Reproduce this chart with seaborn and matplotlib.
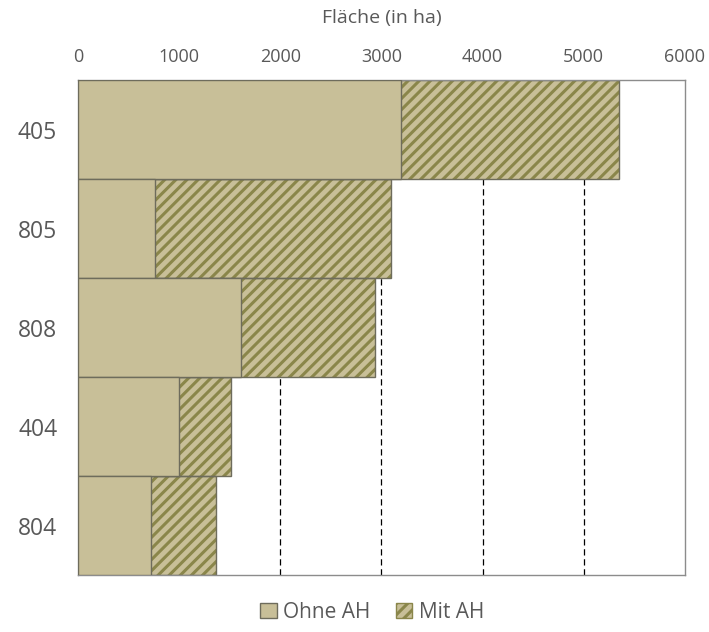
import pandas as pd
import numpy as np
import matplotlib.pyplot as plt
import matplotlib.patches as mpatches
import seaborn as sns

# Daten (in ha)
gebiete = ['405', '805', '808', '404', '804']
ohne_ah = [3190, 760, 1610, 1000, 720]
mit_ah = [2160, 2335, 1325, 515, 645]

df = pd.DataFrame({'Gebiet': gebiete, 'Ohne AH': ohne_ah, 'Mit AH': mit_ah})
df['Gesamt'] = df['Ohne AH'] + df['Mit AH']

sns.set_style('white')
plt.rcParams['font.family'] = ['Open Sans', 'DejaVu Sans']
plt.rcParams['hatch.linewidth'] = 2.2

fill = '#C8BF98'
schraffur = '#8A864A'
edge = '#6E6C5C'
grau = '#595959'

fig = plt.figure(figsize=(7.09, 6.32), dpi=100)
ax = fig.add_axes([0.110, 0.090, 0.856, 0.783])

# Gitterlinien
for x in range(1000, 6000, 1000):
    ax.axvline(x, color='black', lw=0.9, ls=(0, (5, 3)), zorder=0)

# Gesamtbalken schraffiert (Mit AH), dann Umriss, dann Ohne AH darüber
sns.barplot(data=df, y='Gebiet', x='Gesamt', orient='h', width=1.0,
            color=fill, edgecolor=schraffur, linewidth=0, hatch='///',
            saturation=1, ax=ax, zorder=2)
sns.barplot(data=df, y='Gebiet', x='Gesamt', orient='h', width=1.0,
            fill=False, color=edge, linewidth=1.0, ax=ax, zorder=2.5)
sns.barplot(data=df, y='Gebiet', x='Ohne AH', orient='h', width=1.0,
            color=fill, edgecolor=edge, linewidth=1.0,
            saturation=1, ax=ax, zorder=3)

ax.set_xlim(0, 6000)
ax.set_ylim(4.5, -0.5)
ax.xaxis.tick_top()
ax.xaxis.set_label_position('top')
ax.set_xticks(range(0, 7000, 1000))
ax.set_xlabel('Fläche (in ha)', fontsize=14, color=grau, labelpad=18)
ax.set_ylabel('')
ax.tick_params(axis='x', labelsize=13, colors=grau, length=0, pad=10)
ax.tick_params(axis='y', labelsize=16.5, colors=grau, length=0, pad=15)
for s in ax.spines.values():
    s.set_color('#8C8C8C')
    s.set_linewidth(1.0)

h1 = mpatches.Patch(facecolor=fill, edgecolor=edge, label='Ohne AH')
h2 = mpatches.Patch(facecolor=fill, edgecolor=schraffur, hatch='///', label='Mit AH')
leg = fig.legend(handles=[h1, h2], loc='lower center', ncol=2, frameon=False,
                 bbox_to_anchor=(0.525, -0.015), fontsize=15, handlelength=0.8,
                 handleheight=0.8, handletextpad=0.3, columnspacing=1.2)
for t in leg.get_texts():
    t.set_color(grau)

plt.savefig('out.png', dpi=100)
